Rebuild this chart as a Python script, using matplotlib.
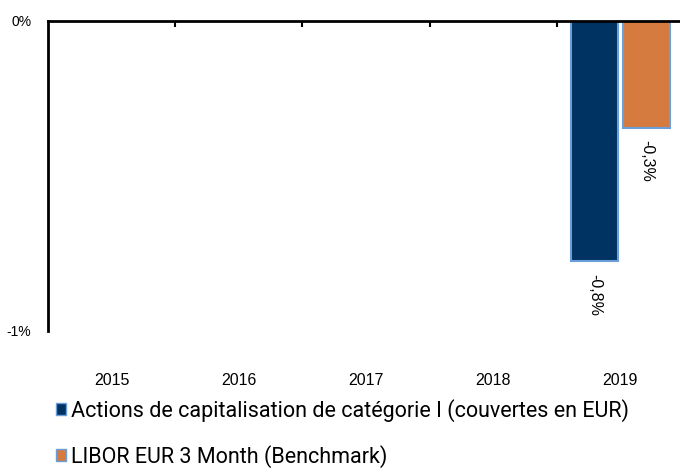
import matplotlib
matplotlib.use("Agg")
import matplotlib.pyplot as plt
from matplotlib.patches import Patch
from matplotlib.ticker import FixedLocator
import numpy as np

years = ["2015", "2016", "2017", "2018", "2019"]
fund_label = "Actions de capitalisation de catégorie I (couvertes en EUR)"
bench_label = "LIBOR EUR 3 Month (Benchmark)"
fund_values = [np.nan, np.nan, np.nan, np.nan, -0.775]
bench_values = [np.nan, np.nan, np.nan, np.nan, -0.345]
y_ticks = [0, -1]
y_tick_labels = ["0%", "-1%"]

navy = "#003262"
orange = "#D67B40"
edge = "#6A9FDA"

plt.rcParams['font.family'] = ['Liberation Sans', 'DejaVu Sans']

W, H = 680, 468
fig = plt.figure(figsize=(W / 100, H / 100), dpi=100)
ax = fig.add_axes([48 / W, 1 - 331 / H, 636 / W, 310 / H])

x = np.arange(len(years))
bw = 0.37
off = 0.205
ax.bar(x - off, fund_values, bw, color=navy, edgecolor=edge, linewidth=1.5, zorder=2)
ax.bar(x + off, bench_values, bw, color=orange, edgecolor=edge, linewidth=1.5, zorder=2)

for xi, v in zip(x, fund_values):
    if not np.isnan(v):
        ax.annotate(f"{v:.1f}%".replace(".", ","), (xi - off, v), xytext=(0, -9),
                    textcoords="offset points", rotation=270,
                    ha="center", va="top", fontsize=11.5)
for xi, v in zip(x, bench_values):
    if not np.isnan(v):
        ax.annotate(f"{v:.1f}%".replace(".", ","), (xi + off, v), xytext=(0, -8.5),
                    textcoords="offset points", rotation=270,
                    ha="center", va="top", fontsize=11.5)

ax.set_xlim(-0.5, len(years) - 0.5)
ax.set_ylim(-1.0, 0)
ax.set_yticks(y_ticks)
ax.set_yticklabels(y_tick_labels, fontsize=10)
ax.tick_params(axis="y", length=0, pad=12)

ax.set_xticks(x)
ax.set_xticklabels(years, fontsize=11.5)
ax.tick_params(axis="x", which="major", length=0, pad=30)
ax.xaxis.set_minor_locator(FixedLocator(np.arange(0.5, len(years) - 0.5, 1)))
ax.tick_params(axis="x", which="minor", top=True, bottom=False, direction="in",
               length=4, width=1.5)

for s in ["right", "bottom"]:
    ax.spines[s].set_visible(False)
ax.spines["top"].set_linewidth(2)
ax.spines["left"].set_linewidth(2)
ax.set_facecolor("none")

handles = [Patch(facecolor=navy, edgecolor=edge, linewidth=1),
           Patch(facecolor=orange, edgecolor=edge, linewidth=1)]
fig.legend(handles, [fund_label, bench_label], loc="upper left",
           bbox_to_anchor=(56 / W, 1 - 399 / H), frameon=False,
           prop={"family": ["Roboto", "DejaVu Sans"], "size": 15.5},
           handlelength=0.48, handleheight=0.48, handletextpad=0.2,
           labelspacing=1.08, borderpad=0, borderaxespad=0)

fig.savefig("out.png", dpi=100)
